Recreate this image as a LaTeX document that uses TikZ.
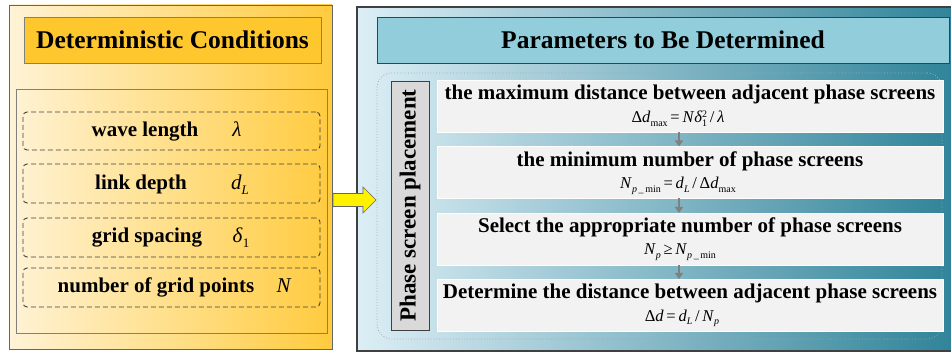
\documentclass[tikz,border=0pt]{standalone}
\usepackage{fontspec}
\setmainfont{Liberation Serif}
\usetikzlibrary{arrows.meta}
\definecolor{lpl}{HTML}{FFF3D6}
\definecolor{lpr}{HTML}{FFCB3E}
\definecolor{ltit}{HTML}{FFC72E}
\definecolor{rpl}{HTML}{DCEEF5}
\definecolor{rpr}{HTML}{2F8399}
\definecolor{rtit}{HTML}{92CDDC}
\definecolor{stepfill}{HTML}{F2F2F2}
\definecolor{vfill}{HTML}{D9D9D9}
\definecolor{dk}{HTML}{404040}
\newcommand{\iv}[1]{\textit{#1}}
\newcommand{\sbs}[1]{\raisebox{-0.45ex}{\fontsize{10}{10}\selectfont #1}}
\newcommand{\sps}[1]{\raisebox{0.75ex}{\fontsize{10}{10}\selectfont #1}}
\newcommand{\sbl}[1]{\raisebox{-0.45ex}{\fontsize{13}{13}\selectfont #1}}
\tikzset{
  boxbase/.style={inner sep=0pt, outer sep=0pt},
  lpanel/.style={boxbase, draw=gray!80!black, line width=0.8pt, left color=lpl, right color=lpr},
  ltitle/.style={boxbase, draw=gray, line width=0.8pt, fill=ltit, font=\fontsize{25.5}{26}\selectfont\bfseries},
  linner/.style={boxbase, draw=gray, line width=0.8pt},
  dbox/.style={boxbase, draw=dk, dash pattern=on 5pt off 3pt, line width=0.9pt, rounded corners=4pt, minimum width=297pt, minimum height=38pt},
  item/.style={anchor=base, inner sep=0pt, font=\fontsize{21}{21}\selectfont\bfseries},
  sym/.style={anchor=base, inner sep=0pt, font=\fontsize{21}{21}\selectfont},
  rpanel/.style={boxbase, draw=dk, line width=1.2pt, left color=rpl, right color=rpr},
  rtitle/.style={boxbase, draw=dk, line width=0.8pt, fill=rtit, font=\fontsize{25.5}{26}\selectfont\bfseries},
  region/.style={boxbase, draw=gray!70, dotted, line width=0.8pt, rounded corners=15pt},
  vlabel/.style={boxbase, draw=dk, line width=0.8pt, fill=vfill, font=\fontsize{23}{23}\selectfont\bfseries},
  stepbox/.style={boxbase, fill=stepfill, draw=white, line width=0.5pt, minimum width=506pt, minimum height=52pt},
  stitle/.style={anchor=base, inner sep=0pt, font=\fontsize{21}{21}\selectfont\bfseries},
  formula/.style={anchor=base, inner sep=0pt, font=\fontsize{16.5}{16.5}\selectfont},
  garrow/.style={draw=gray, line width=1.8pt, -{Triangle[width=8pt,length=6pt]}},
  yarrow/.style={fill=yellow, draw=gray!80!black, line width=0.6pt, line join=miter}
}
\begin{document}
\begin{tikzpicture}[x=1pt,y=-1pt]
\useasboundingbox (0,0) rectangle (951,352);
% left panel
\node[lpanel, minimum width=323pt, minimum height=344pt] (lp) at (170.5,177) {};
\node[ltitle, minimum width=297pt, minimum height=46pt] (lt) at (172.5,40) {Deterministic Conditions};
\node[linner, minimum width=311pt, minimum height=244pt] (li) at (171.5,211) {};
\node[dbox] (d1) at (171.5,131) {};
\node[dbox, minimum height=39pt] (d2) at (171.5,183.5) {};
\node[dbox, minimum height=39pt] (d3) at (171.5,237.5) {};
\node[dbox, minimum height=39pt] (d4) at (171.5,287.5) {};
\node[item] (i1) at (145,137) {wave length};
\node[sym] (s1) at (237,137) {\iv{λ}};
\node[item] (i2) at (141,190) {link depth};
\node[sym] (s2) at (240,190) {\iv{d}\sbl{\iv{L}}};
\node[item] (i3) at (147,243) {grid spacing};
\node[sym] (s3) at (241,243) {\iv{δ}\sbl{1}};
\node[item] (i4) at (156,293) {number of grid points};
\node[sym] (s4) at (284,293) {\iv{N}};
% right panel
\node[rpanel, minimum width=599pt, minimum height=344pt] (rp) at (656.5,179) {};
\node[rtitle, minimum width=572pt, minimum height=46pt] (rt) at (663,40) {Parameters to Be Determined};
\node[region, minimum width=565pt, minimum height=266pt] (rg) at (659.5,206) {};
\node[vlabel, rotate=90, minimum width=249pt, minimum height=38pt] (vl) at (410,205.5) {Phase screen placement};
% steps
\node[stepbox] (st1) at (690,106.5) {};
\node[stepbox] (st2) at (690,172.5) {};
\node[stepbox] (st3) at (690,239) {};
\node[stepbox] (st4) at (690,305) {};
\node[stitle] (t1) at (690,100) {the maximum distance between adjacent phase screens};
\node[formula] (f1) at (678,123) {Δ\iv{d}\sbs{max}\,=\,\iv{N}\iv{δ}\rlap{\sps{2}}\sbs{1}\,/\,\iv{λ}};
\node[stitle] (t2) at (690,166.5) {the minimum number of phase screens};
\node[formula] (f2) at (678,189) {\iv{N}\sbs{\iv{p}\,\_\,min}\,=\,\iv{d}\sbs{\iv{L}}\,/\,Δ\iv{d}\sbs{max}};
\node[stitle] (t3) at (690,232.5) {Select the appropriate number of phase screens};
\node[formula] (f3) at (680,255) {\iv{N}\sbs{\iv{p}}\,≥\,\iv{N}\sbs{\iv{p}\,\_\,min}};
\node[stitle] (t4) at (690,299) {Determine the distance between adjacent phase screens};
\node[formula] (f4) at (682,321.5) {Δ\iv{d}\,=\,\iv{d}\sbs{\iv{L}}\,/\,\iv{N}\sbs{\iv{p}}};
\draw[garrow] ([xshift=-11pt]st1.south) -- ([xshift=-11pt]st2.north);
\draw[garrow] ([xshift=-11pt]st2.south) -- ([xshift=-11pt]st3.north);
\draw[garrow] ([xshift=-11pt]st3.south) -- ([xshift=-11pt]st4.north);
% yellow arrow
\coordinate (ya) at (333,200);
\draw[yarrow] (ya) ++(0,-6.5) -- ++(30,0) -- ++(0,-6.5) -- ++(13,13) -- ++(-13,13) -- ++(0,-6.5) -- ++(-30,0) -- cycle;
\end{tikzpicture}
\end{document}
